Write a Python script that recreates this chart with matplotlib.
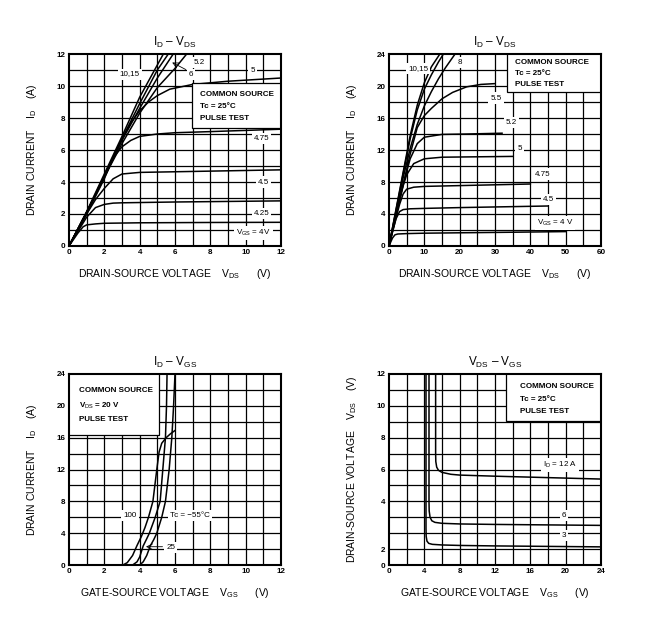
import numpy as np
import matplotlib
matplotlib.use('Agg')
import matplotlib.pyplot as plt
from matplotlib.patches import Rectangle

plt.rcParams['font.family'] = ['Liberation Sans', 'DejaVu Sans']
plt.rcParams['mathtext.fontset'] = 'custom'
plt.rcParams['mathtext.rm'] = 'Liberation Sans'
plt.rcParams['mathtext.it'] = 'Liberation Sans'

# ---- ID - VDS, low range (VDS 0..12 V) ----
lo_vgs_labels = ['15', '10', '6', '5.2', '5', '4.75', '4.5', '4.25', '4']
lo_vds = [
    [0, 1, 2, 3, 4, 5.34],
    [0, 1, 2, 3, 4, 5, 5.62],
    [0, 1, 2, 3, 4, 5, 5.9],
    [0, 1, 2, 3, 4, 5, 6, 6.66],
    [0, 1, 2, 3, 3.5, 4, 4.5, 5, 5.7, 7, 9, 12],
    [0, 1, 2, 2.5, 3, 3.5, 4, 5, 6, 8, 12],
    [0, 1, 1.5, 2, 2.5, 3, 4, 8, 12],
    [0, 0.5, 1, 1.5, 2, 2.5, 3, 6, 12],
    [0, 0.5, 0.8, 1.0, 1.5, 2, 4, 8, 12],
]
lo_id = [
    [0, 2.15, 4.5, 6.85, 9.3, 12],
    [0, 2.1, 4.4, 6.7, 8.9, 11.0, 12],
    [0, 2.1, 4.3, 6.6, 8.6, 10.5, 12],
    [0, 2.1, 4.3, 6.4, 8.3, 9.9, 11.1, 12],
    [0, 2.1, 4.3, 6.7, 7.7, 8.45, 9.0, 9.4, 9.8, 10.1, 10.3, 10.5],
    [0, 2.0, 4.2, 5.5, 6.2, 6.6, 6.85, 7.0, 7.08, 7.15, 7.3],
    [0, 2.0, 2.9, 3.6, 4.2, 4.5, 4.6, 4.68, 4.76],
    [0, 0.9, 1.8, 2.4, 2.6, 2.68, 2.7, 2.75, 2.82],
    [0, 0.8, 1.2, 1.32, 1.38, 1.42, 1.45, 1.47, 1.48],
]

# ---- ID - VDS, high range (VDS 0..60 V) ----
hi_vds = [
    [0, 2, 4, 6, 8, 10, 12, 14.4],
    [0, 2, 4, 6, 8, 10, 12, 14, 15.4],
    [0, 2, 4, 6, 8, 10, 12, 14, 16, 18.7],
    [0, 2, 4, 6, 8, 10, 12, 15, 18, 22, 26, 30],
    [0, 2, 4, 5, 6, 8, 10, 15, 22, 32],
    [0, 2, 3, 4, 5, 7, 10, 15, 25, 35],
    [0, 2, 3, 4, 5, 7, 10, 20, 30, 40],
    [0, 1, 2, 3, 4, 6, 10, 20, 30, 45],
    [0, 1, 1.7, 2.5, 5, 10, 20, 35, 50],
]
hi_id = [
    [0, 4.6, 9.2, 13.8, 17.6, 20.4, 22.4, 24],
    [0, 4.5, 9.0, 13.4, 17.0, 19.6, 21.4, 23.0, 24],
    [0, 4.3, 8.5, 12.2, 15.2, 17.5, 19.3, 20.9, 22.3, 24],
    [0, 3.9, 7.6, 11.5, 14.8, 16.3, 17.2, 18.4, 19.2, 19.9, 20.2, 20.3],
    [0, 3.9, 7.7, 9.3, 10.9, 12.8, 13.6, 13.95, 14.0, 14.1],
    [0, 3.8, 5.7, 7.5, 8.9, 10.3, 10.9, 11.1, 11.15, 11.2],
    [0, 3.5, 5.2, 6.5, 7.1, 7.35, 7.45, 7.55, 7.65, 7.75],
    [0, 1.8, 3.4, 4.3, 4.55, 4.65, 4.7, 4.8, 4.88, 5.0],
    [0, 1.0, 1.4, 1.5, 1.55, 1.6, 1.65, 1.72, 1.8],
]

# ---- ID - VGS (VDS = 20 V) ----
tc_labels = ['100', '25', '-55']
tc_vgs = [
    [3.05, 3.3, 3.6, 3.84, 4.1, 4.3, 4.5, 4.75, 4.97, 5.1, 5.25, 5.5, 5.75, 6.0],
    [3.6, 3.85, 4.0, 4.2, 4.4, 4.55, 4.88, 5.16, 5.31, 5.46, 5.52, 5.55],
    [4.0, 4.2, 4.4, 4.6, 4.8, 4.97, 5.25, 5.46, 5.67, 5.82, 5.92, 6.0],
]
tc_id = [
    [0, 0.3, 1.2, 2.4, 3.6, 4.7, 6.0, 8.0, 12.0, 14.2, 15.3, 16.0, 16.5, 16.9],
    [0, 0.4, 1.0, 2.4, 3.3, 4.0, 6.0, 8.0, 12.0, 16.0, 20.0, 24],
    [0, 0.4, 1.2, 2.4, 3.2, 4.0, 6.0, 8.0, 12.0, 16.0, 20.0, 24],
]

# ---- VDS - VGS ----
id_labels = ['12', '6', '3']
vv_vgs = [
    [5.28, 5.28, 5.3, 5.4, 5.6, 6.0, 7, 8, 12, 16, 20, 24],
    [4.53, 4.53, 4.55, 4.65, 4.85, 5.2, 6, 8, 12, 16, 20, 24],
    [4.19, 4.19, 4.21, 4.3, 4.5, 4.9, 6, 8, 12, 16, 20, 24],
]
vv_vds = [
    [12, 7.0, 6.5, 6.15, 5.95, 5.82, 5.7, 5.65, 5.58, 5.52, 5.46, 5.4],
    [12, 4.0, 3.4, 3.0, 2.78, 2.68, 2.62, 2.58, 2.55, 2.53, 2.51, 2.49],
    [12, 2.3, 1.8, 1.5, 1.36, 1.3, 1.26, 1.23, 1.2, 1.18, 1.16, 1.14],
]
vv_ytick_pos = [0, 1, 4, 6, 8, 10, 12]
vv_ytick_lab = ['0', '2', '4', '6', '8', '10', '12']

LBL = dict(fontsize=5.8, ha='center', va='center', zorder=4,
           bbox=dict(boxstyle='square,pad=0.25', fc='white', ec='none'))
BOXTXT = dict(fontsize=5.8, ha='left', va='center', zorder=6, fontweight='semibold')


def setup(ax, xmax, ymax, xstep, ystep, xticks, yticks, ytl=None):
    ax.set_xlim(0, xmax)
    ax.set_ylim(0, ymax)
    for v in np.arange(xstep, xmax, xstep):
        ax.axvline(v, color='black', lw=0.9, zorder=1)
    for v in np.arange(ystep, ymax, ystep):
        ax.axhline(v, color='black', lw=0.9, zorder=1)
    ax.set_xticks(xticks)
    ax.set_yticks(yticks)
    if ytl is not None:
        ax.set_yticklabels(ytl)
    ax.tick_params(length=0, pad=2.5, labelsize=5.8)
    for t in ax.get_xticklabels() + ax.get_yticklabels():
        t.set_fontweight('bold')
    for s in ax.spines.values():
        s.set_linewidth(1.5)
        s.set_zorder(7)


def cond_box(ax, x0, y0, x1, y1, lines, tx, ty):
    ax.add_patch(Rectangle((x0, y0), x1 - x0, y1 - y0, fc='white', ec='black',
                           lw=0.9, zorder=5))
    for s, yy in zip(lines, ty):
        ax.text(tx, yy, s, **BOXTXT)


fig = plt.figure(figsize=(6.71, 6.34), dpi=100)
ax1 = fig.add_axes([0.1028, 0.612, 0.316, 0.3028])
ax2 = fig.add_axes([0.5797, 0.612, 0.316, 0.3028])
ax3 = fig.add_axes([0.1028, 0.1088, 0.316, 0.3013])
ax4 = fig.add_axes([0.5797, 0.1088, 0.316, 0.3013])

ylab_id = r'DRAIN CURRENT    I$_\mathrm{D}$    (A)'
xlab_ds = r'DRAIN-SOURCE VOLTAGE    V$_\mathrm{DS}$      (V)'
xlab_gs = r'GATE-SOURCE VOLTAGE    V$_\mathrm{GS}$      (V)'
ylab_ds = r'DRAIN-SOURCE VOLTAGE    V$_\mathrm{DS}$    (V)'

# panel 1
setup(ax1, 12, 12, 1, 1, range(0, 13, 2), range(0, 13, 2))
for x, y in zip(lo_vds, lo_id):
    ax1.plot(x, y, color='black', lw=1.1, zorder=3)
cond_box(ax1, 6.96, 7.35, 12.2, 10.2,
         ['COMMON SOURCE', 'Tc = 25°C', 'PULSE TEST'], 7.42, [9.46, 8.73, 7.97])
ax1.text(3.45, 10.75, '10,15', **LBL)
ax1.text(7.4, 11.5, '5.2', **LBL)
ax1.text(6.9, 10.72, '6', **LBL)
ax1.text(10.4, 11.0, '5', **LBL)
ax1.text(10.9, 6.72, '4.75', **LBL)
ax1.text(11.0, 4.0, '4.5', **LBL)
ax1.text(10.9, 2.06, '4.25', **LBL)
ax1.text(10.45, 0.8, r'V$_\mathrm{GS}$ = 4V', **LBL)
ax1.annotate('', xy=(5.7, 11.55), xytext=(6.75, 10.95),
             arrowprops=dict(arrowstyle='->', lw=0.6, color='black'), zorder=4)
ax1.set_title(r'I$_\mathrm{D}$ – V$_\mathrm{DS}$', fontsize=8.5, pad=6)

# panel 2
setup(ax2, 60, 24, 5, 2, range(0, 61, 10), range(0, 25, 4))
for x, y in zip(hi_vds, hi_id):
    ax2.plot(x, y, color='black', lw=1.1, zorder=3)
cond_box(ax2, 33.3, 19.2, 61, 24.5,
         ['COMMON SOURCE', 'Tc = 25°C', 'PULSE TEST'], 35.6, [23.0, 21.6, 20.2])
ax2.text(8.3, 22.2, '10,15', **LBL)
ax2.text(20.1, 22.9, '8', **LBL)
ax2.text(30.3, 18.5, '5.5', **LBL)
ax2.text(34.7, 15.4, '5.2', **LBL)
ax2.text(36.9, 12.2, '5', **LBL)
ax2.text(43.4, 9.0, '4.75', **LBL)
ax2.text(45.1, 5.8, '4.5', **LBL)
ax2.text(47.0, 2.9, r'V$_\mathrm{GS}$ = 4 V', **LBL)
ax2.set_title(r'I$_\mathrm{D}$ – V$_\mathrm{DS}$', fontsize=8.5, pad=6)

# panel 3
setup(ax3, 12, 24, 1, 2, range(0, 13, 2), range(0, 25, 4))
for x, y in zip(tc_vgs, tc_id):
    ax3.plot(x, y, color='black', lw=1.1, zorder=3)
cond_box(ax3, -0.5, 16.3, 5.12, 25,
         ['COMMON SOURCE', r'V$_\mathrm{DS}$ = 20 V', 'PULSE TEST'], 0.55, [21.9, 20.0, 18.3])
ax3.text(3.45, 6.2, '100', **LBL)
ax3.text(6.85, 6.2, 'Tc = −55°C', **LBL)
ax3.text(5.75, 2.25, '25', **LBL)
ax3.annotate('', xy=(4.2, 2.3), xytext=(5.45, 2.3),
             arrowprops=dict(arrowstyle='->', lw=0.6, color='black'), zorder=4)
ax3.set_title(r'I$_\mathrm{D}$ – V$_\mathrm{GS}$', fontsize=8.5, pad=6)

# panel 4
setup(ax4, 24, 12, 2, 1, range(0, 25, 4), vv_ytick_pos, vv_ytick_lab)
for x, y in zip(vv_vgs, vv_vds):
    ax4.plot(x, y, color='black', lw=1.1, zorder=3)
cond_box(ax4, 13.3, 9.06, 24.5, 12.5,
         ['COMMON SOURCE', 'Tc = 25°C', 'PULSE TEST'], 14.8, [11.2, 10.4, 9.64])
ax4.text(19.4, 6.3, r'I$_\mathrm{D}$ = 12 A', **LBL)
ax4.text(19.8, 3.14, '6', **LBL)
ax4.text(19.8, 1.85, '3', **LBL)
ax4.set_title(r'V$_\mathrm{DS}$ – V$_\mathrm{GS}$', fontsize=8.5, pad=6)

for ax, xl, yl in [(ax1, xlab_ds, ylab_id), (ax2, xlab_ds, ylab_id),
                   (ax3, xlab_gs, ylab_id), (ax4, xlab_gs, ylab_ds)]:
    ax.set_xlabel(xl, fontsize=7.5)
    ax.set_ylabel(yl, fontsize=7.5)
    ax.xaxis.set_label_coords(0.5, -0.11)
    ax.yaxis.set_label_coords(-0.14, 0.5)

fig.savefig('out.png', dpi=100, facecolor='white')
